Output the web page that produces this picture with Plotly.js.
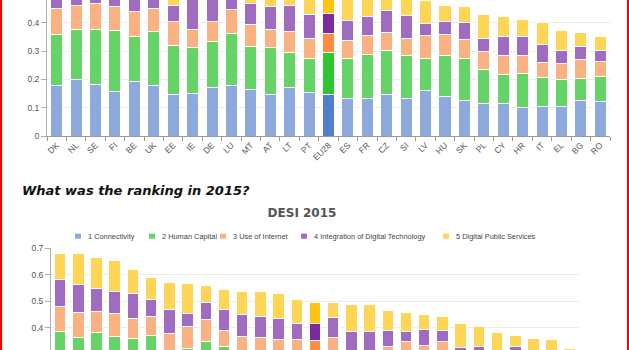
<!DOCTYPE html>
<html>
<head>
<meta charset="utf-8">
<script src="https://cdn.plot.ly/plotly-3.0.1.min.js"></script>
<style>
  html, body { margin: 0; padding: 0; background: #fff; }
  body { width: 629px; height: 350px; overflow: hidden; position: relative; }
  #top { position: absolute; left: 0; top: -100px; width: 629px; height: 276px; }
  #bottom { position: absolute; left: 0; top: 200px; width: 629px; height: 280px; }
  #heading { position: absolute; left: 22px; top: 183px; font-family: "DejaVu Sans", sans-serif;
             font-weight: bold; font-style: italic; font-size: 13px; color: #111; white-space: nowrap; }
  .redl { position: absolute; top: 0; width: 2px; height: 350px; background: #ff0000; }
</style>
</head>
<body>
<div id="top"></div>
<div id="heading">What was the ranking in 2015?</div>
<div id="bottom"></div>
<div class="redl" style="left:0"></div>
<div class="redl" style="left:627px"></div>
<script>
// ---------- data ----------
const seriesNames = ['1 Connectivity', '2 Human Capital', '3 Use of Internet', '4 Integration of Digital Technology', '5 Digital Public Services'];

const countries16 = ['DK','NL','SE','FI','BE','UK','EE','IE','DE','LU','MT','AT','LT','PT','EU28','ES','FR','CZ','SI','LV','HU','SK','PL','CY','HR','IT','EL','BG','RO'];
const conn16 = [.180,.200,.183,.157,.194,.177,.145,.151,.171,.178,.166,.148,.172,.153,.146,.133,.131,.147,.132,.161,.141,.127,.115,.114,.101,.104,.105,.124,.121];
const hc16   = [.180,.176,.193,.215,.159,.192,.175,.161,.162,.185,.150,.165,.122,.121,.148,.140,.158,.155,.154,.113,.142,.147,.121,.102,.119,.104,.095,.081,.090];
const ui16   = [.092,.087,.093,.085,.086,.083,.085,.066,.072,.086,.079,.062,.077,.069,.068,.063,.066,.063,.059,.081,.076,.066,.062,.067,.063,.053,.057,.065,.054];
const idt16  = [.110,.100,.090,.100,.100,.070,.056,.130,.090,.060,.074,.082,.090,.085,.071,.072,.067,.077,.080,.042,.045,.063,.045,.070,.068,.062,.047,.047,.037];
const dps16  = [.118,.107,.111,.113,.071,.088,.139,.082,.095,.081,.111,.113,.099,.102,.087,.112,.088,.058,.075,.083,.058,.054,.085,.071,.062,.079,.068,.049,.051];

const countries15 = ['DK','SE','NL','FI','BE','UK','EE','LU','IE','DE','AT','MT','LT','FR','EU28','ES','PT','SI','LV','CZ','CY','SK','HU','PL','HR','IT','EL','BG','RO'];
const conn15 = [.170,.170,.190,.150,.180,.170,.140,.170,.150,.160,.140,.150,.160,.130,.140,.130,.140,.130,.140,.150,.120,.130,.110,.110,.100,.100,.100,.120,.110];
const hc15   = [.216,.194,.191,.217,.178,.199,.170,.152,.200,.168,.160,.145,.120,.160,.145,.140,.110,.130,.120,.130,.140,.140,.120,.110,.110,.110,.100,.080,.080];
const ui15   = [.093,.095,.081,.085,.077,.075,.069,.082,.081,.063,.066,.067,.077,.067,.066,.092,.060,.050,.071,.067,.073,.080,.070,.060,.060,.060,.050,.060,.050];
const idt15  = [.101,.102,.086,.084,.092,.063,.091,.050,.065,.078,.084,.080,.076,.057,.065,.077,.074,.074,.060,.038,.062,.041,.026,.048,.040,.058,.050,.040,.030];
const dps15  = [.100,.117,.117,.116,.093,.083,.100,.113,.062,.073,.087,.095,.097,.093,.080,.055,.105,.102,.072,.074,.055,.053,.090,.076,.071,.044,.061,.057,.052];

const yTicksTop = [0, 0.1, 0.2, 0.3, 0.4];
const yTicksBottom = [0.4, 0.5, 0.6, 0.7];

// ---------- styles ----------
const baseColors = ['#8eaadc', '#66d366', '#fbb283', '#a06cc0', '#ffd555'];
const euColors   = ['#4f80c9', '#2fc52f', '#ff8c42', '#7a2c9c', '#ffc412'];
const FONT = '"Liberation Sans", Arial, sans-serif';

function traces(countries, series) {
  return series.map((vals, k) => ({
    type: 'bar',
    name: seriesNames[k],
    x: countries,
    y: vals,
    marker: {
      color: countries.map(c => c === 'EU28' ? euColors[k] : baseColors[k]),
      line: { color: '#ffffff', width: 1 }
    },
    hoverinfo: 'x+y+name',
    showlegend: false
  }));
}

function axes(countries, yTicks, showX) {
  return {
    xaxis: {
      type: 'category', categoryorder: 'array', categoryarray: countries,
      showline: true, linecolor: '#9a9a9a', linewidth: 1,
      ticks: 'outside', tickson: 'boundaries', ticklen: 4, tickcolor: '#9a9a9a',
      tickangle: -45, tickfont: { family: FONT, size: 8.5, color: '#555' },
      showticklabels: showX,
      showgrid: false, zeroline: false, fixedrange: true
    },
    yaxis: {
      range: [0, 0.7], tickvals: yTicks, ticktext: yTicks.map(v => String(v)),
      showline: true, linecolor: '#b0b0b0', linewidth: 1,
      ticks: 'outside', ticklen: 5, tickcolor: '#b0b0b0',
      tickfont: { family: FONT, size: 8.5, color: '#555' },
      showgrid: true, gridcolor: '#ececec', gridwidth: 1, zeroline: false, fixedrange: true
    }
  };
}

// ---------- top chart (2016, upper part cropped off the page) ----------
const topLayout = Object.assign({
  barmode: 'stack', bargap: 0.38,
  margin: { l: 46.5, r: 19, t: 38, b: 40 },
  width: 629, height: 276,
  paper_bgcolor: 'rgba(0,0,0,0)', plot_bgcolor: 'rgba(0,0,0,0)'
}, axes(countries16, yTicksTop, true));

Plotly.newPlot('top', traces(countries16, [conn16, hc16, ui16, idt16, dps16]), topLayout,
  { displayModeBar: false, staticPlot: true });

// ---------- bottom chart (2015, lower part cropped off the page) ----------
const bL = 51, bR = 579, bTop = 247.8 - 200, bBot = 433.7 - 200, bH = 280;
const px2x = px => (px - bL) / (bR - bL);
const py2y = py => (bBot - (py - 200)) / (bBot - bTop);

const legendText = [86, 160, 231, 312, 454];
const legendY = 236;
const annotations = seriesNames.map((n, k) => ({
  xref: 'paper', yref: 'paper', x: px2x(legendText[k]), y: py2y(legendY),
  xanchor: 'left', yanchor: 'middle', showarrow: false, text: n,
  font: { family: FONT, size: 7.4, color: '#444' }
}));
const shapes = seriesNames.map((n, k) => ({
  type: 'rect', xref: 'paper', yref: 'paper',
  x0: px2x(legendText[k] - 11), x1: px2x(legendText[k] - 5),
  y0: py2y(legendY + 2.5), y1: py2y(legendY - 2.5),
  line: { width: 0 }, fillcolor: baseColors[k]
}));

const botLayout = Object.assign({
  barmode: 'stack', bargap: 0.37,
  margin: { l: bL, r: 629 - bR, t: bTop, b: bH - bBot },
  width: 629, height: bH,
  paper_bgcolor: 'rgba(0,0,0,0)', plot_bgcolor: 'rgba(0,0,0,0)',
  title: { text: 'DESI 2015', font: { family: '"DejaVu Sans", sans-serif', size: 12, color: '#555', weight: 'bold' },
           xref: 'container', x: 302 / 629, xanchor: 'center', yref: 'container', y: 1 - 13 / bH, yanchor: 'middle' },
  annotations: annotations,
  shapes: shapes
}, axes(countries15, yTicksBottom, false));

Plotly.newPlot('bottom', traces(countries15, [conn15, hc15, ui15, idt15, dps15]), botLayout,
  { displayModeBar: false, staticPlot: true });
</script>
</body>
</html>
